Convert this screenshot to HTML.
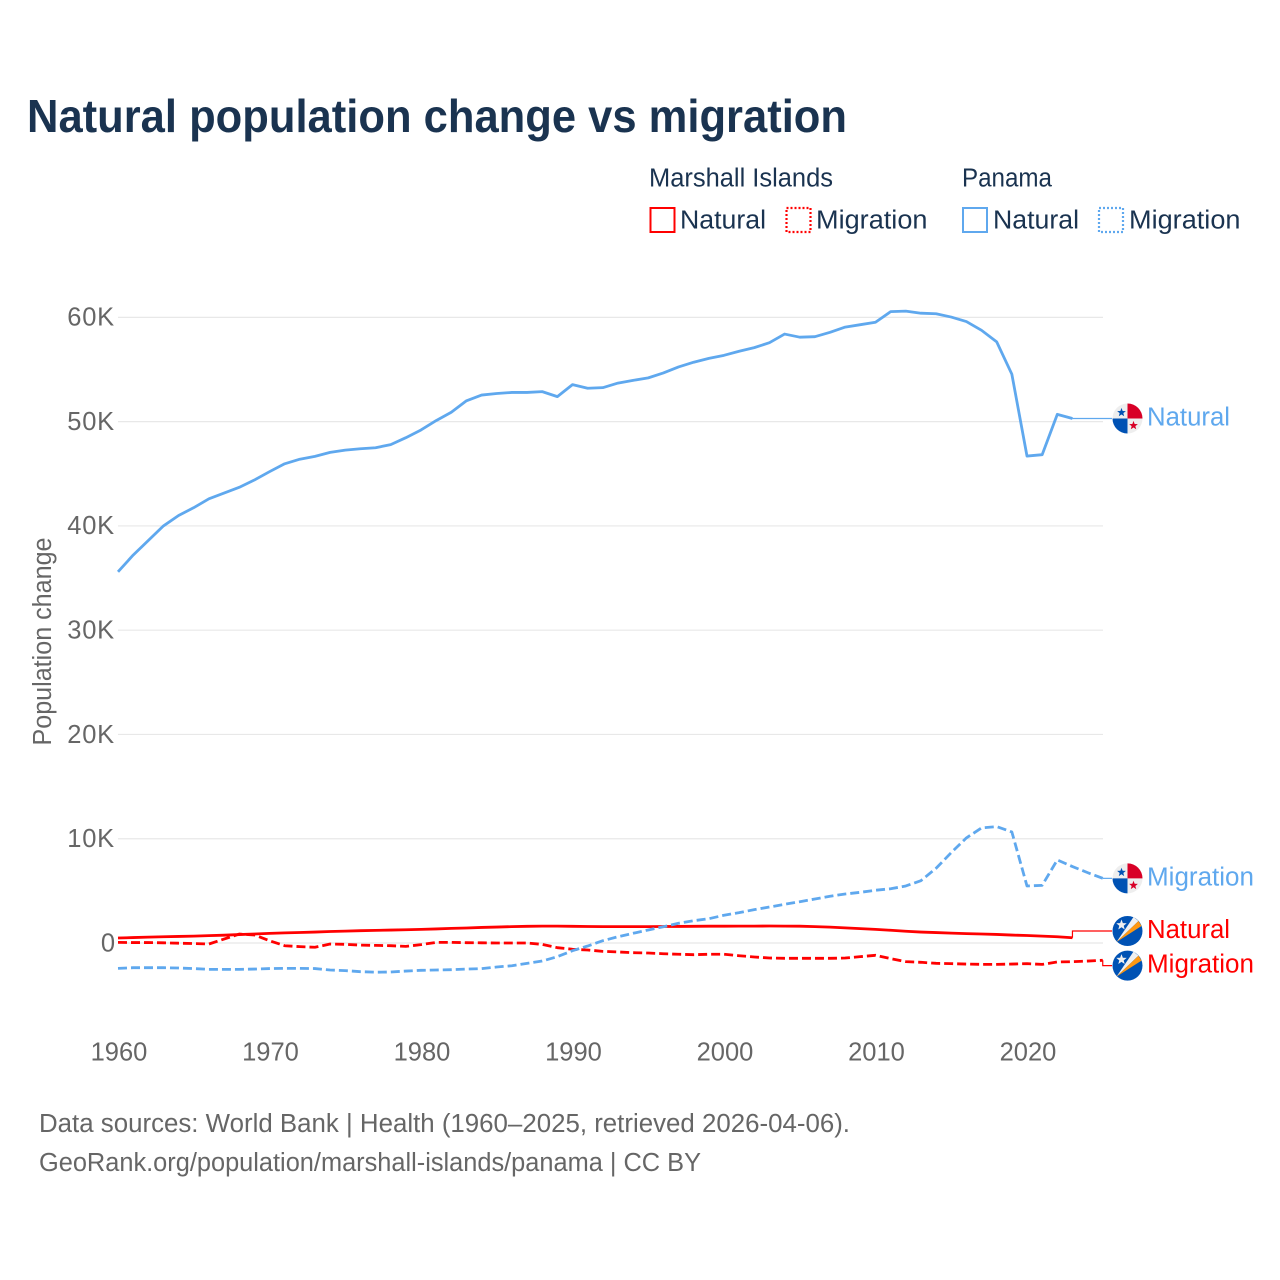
<!DOCTYPE html>
<html lang="en">
<head>
<meta charset="utf-8">
<title>Natural population change vs migration</title>
<style>
html,body{margin:0;padding:0;background:#fff;}
svg{display:block;font-family:"Liberation Sans",sans-serif;}
</style>
</head>
<body>
<svg id="chart" xmlns="http://www.w3.org/2000/svg" width="1280" height="1280" viewBox="0 0 1280 1280">
  <rect width="1280" height="1280" fill="#fff"/>
  <text x="27" y="132" font-size="46" font-weight="700" fill="#1a3350" textLength="820" lengthAdjust="spacingAndGlyphs">Natural population change vs migration</text>

  <g font-size="25.5" fill="#1a3350">
    <text x="649" y="186.5" textLength="184" lengthAdjust="spacingAndGlyphs">Marshall Islands</text>
    <text x="962" y="186.5" textLength="90" lengthAdjust="spacingAndGlyphs">Panama</text>
    <rect x="650.5" y="208" width="24" height="24" fill="none" stroke="#ff0000" stroke-width="2"/>
    <text x="680" y="228.5" textLength="86" lengthAdjust="spacingAndGlyphs">Natural</text>
    <rect x="786.5" y="208" width="24" height="24" fill="none" stroke="#ff0000" stroke-width="2.2" stroke-dasharray="2 2"/>
    <text x="816" y="228.5" textLength="111.5" lengthAdjust="spacingAndGlyphs">Migration</text>
    <rect x="963" y="208" width="24" height="24" fill="none" stroke="#5fa8ee" stroke-width="2"/>
    <text x="993" y="228.5" textLength="86" lengthAdjust="spacingAndGlyphs">Natural</text>
    <rect x="1099" y="208" width="24" height="24" fill="none" stroke="#5fa8ee" stroke-width="2.2" stroke-dasharray="2 2"/>
    <text x="1129" y="228.5" textLength="111.5" lengthAdjust="spacingAndGlyphs">Migration</text>
  </g>

  <text transform="translate(51 745.5) rotate(-90)" font-size="25.5" fill="#666" textLength="208" lengthAdjust="spacingAndGlyphs">Population change</text>

  <g id="grid"></g>
  <g id="y-ticks"></g>
  <g id="x-ticks"></g>
  <g id="series"></g>
  <g id="end-labels"></g>

  <g font-size="25.5" fill="#666">
    <text x="39" y="1132" textLength="811" lengthAdjust="spacingAndGlyphs">Data sources: World Bank | Health (1960–2025, retrieved 2026-04-06).</text>
    <text x="39" y="1171" textLength="662" lengthAdjust="spacingAndGlyphs">GeoRank.org/population/marshall-islands/panama | CC BY</text>
  </g>
</svg>

<script>
const years = [1960,1961,1962,1963,1964,1965,1966,1967,1968,1969,1970,1971,1972,1973,1974,1975,1976,1977,1978,1979,1980,1981,1982,1983,1984,1985,1986,1987,1988,1989,1990,1991,1992,1993,1994,1995,1996,1997,1998,1999,2000,2001,2002,2003,2004,2005,2006,2007,2008,2009,2010,2011,2012,2013,2014,2015,2016,2017,2018,2019,2020,2021,2022,2023,2024,2025];
// Values in thousands of people
const panamaNatural = [35.6,37.2,38.6,40.0,41.0,41.75,42.6,43.15,43.7,44.4,45.2,45.96,46.4,46.67,47.05,47.27,47.4,47.5,47.8,48.46,49.2,50.1,50.9,52.0,52.55,52.7,52.8,52.8,52.88,52.4,53.55,53.2,53.26,53.7,53.96,54.2,54.67,55.25,55.7,56.07,56.36,56.75,57.1,57.57,58.4,58.1,58.15,58.57,59.07,59.3,59.53,60.55,60.6,60.4,60.35,60.03,59.6,58.76,57.65,54.55,46.7,46.83,50.7,50.3,null,null];
const panamaMigration = [-2.43,-2.37,-2.37,-2.37,-2.4,-2.45,-2.53,-2.53,-2.53,-2.5,-2.45,-2.43,-2.43,-2.45,-2.59,-2.65,-2.75,-2.8,-2.78,-2.69,-2.62,-2.59,-2.56,-2.5,-2.46,-2.3,-2.18,-1.95,-1.73,-1.31,-0.74,-0.29,0.22,0.6,0.93,1.25,1.56,1.89,2.14,2.33,2.66,2.91,3.2,3.45,3.71,3.96,4.22,4.48,4.7,4.86,5.06,5.2,5.47,5.98,7.17,8.67,10.08,11.04,11.16,10.65,5.47,5.53,7.97,7.33,6.75,6.2];
const marshallNatural = [0.48,0.52,0.56,0.6,0.63,0.66,0.71,0.75,0.81,0.86,0.92,0.97,1.01,1.05,1.1,1.14,1.18,1.21,1.24,1.27,1.31,1.35,1.4,1.44,1.49,1.53,1.57,1.6,1.62,1.62,1.6,1.58,1.57,1.57,1.57,1.57,1.58,1.59,1.6,1.61,1.61,1.62,1.62,1.63,1.62,1.61,1.57,1.52,1.45,1.38,1.31,1.22,1.13,1.05,1.0,0.95,0.9,0.86,0.82,0.76,0.72,0.66,0.6,0.5,null,null];
const marshallMigration = [0.06,0.04,0.04,0.02,-0.02,-0.05,-0.1,0.38,0.86,0.77,0.22,-0.26,-0.35,-0.41,-0.1,-0.13,-0.2,-0.23,-0.26,-0.32,-0.16,0.06,0.06,0.03,0.02,0,0,0,-0.13,-0.45,-0.6,-0.67,-0.8,-0.86,-0.93,-0.96,-1.03,-1.08,-1.12,-1.08,-1.08,-1.22,-1.34,-1.44,-1.47,-1.47,-1.47,-1.47,-1.44,-1.31,-1.18,-1.5,-1.79,-1.85,-1.95,-1.98,-2.02,-2.05,-2.05,-2.02,-1.98,-2.05,-1.82,-1.79,-1.73,-1.66];
const yTickValues = [0,10,20,30,40,50,60];
const yTickLabels = ["0","10K","20K","30K","40K","50K","60K"];
const xTickValues = [1960,1970,1980,1990,2000,2010,2020];
const xTickLabels = ["1960","1970","1980","1990","2000","2010","2020"];

const NS = "http://www.w3.org/2000/svg";
const BLUE = "#5fa8ee", RED = "#ff0000";
const x = year => 118 + (year - 1960) * 15.15;
const y = value => 943 - value * 10.427;

function make(parent, tag, attrs, text) {
  const el = document.createElementNS(NS, tag);
  for (const k in attrs) el.setAttribute(k, attrs[k]);
  if (text !== undefined) el.textContent = text;
  parent.appendChild(el);
  return el;
}

const gridGroup = document.getElementById("grid");
const yTickGroup = document.getElementById("y-ticks");
yTickValues.forEach((v, i) => {
  const line = make(gridGroup, "line", {x1: 118, x2: 1103, y1: y(v), y2: y(v), stroke: "#e8e8e8", "stroke-width": 1.2});
  
  
  const label = make(yTickGroup, "text", {x: 115, y: y(v) + 8.3, "text-anchor": "end", "font-size": 25.5, "letter-spacing": v ? 0.8 : 0, fill: "#666"}, yTickLabels[i]);
  
  
});

const xTickGroup = document.getElementById("x-ticks");
xTickValues.forEach((v, i) => {
  const label = make(xTickGroup, "text", {x: x(v) + 1, y: 1060.5, "text-anchor": "middle", "font-size": 25.5, fill: "#666"}, xTickLabels[i]);
  
  
});

function linePath(values) {
  let d = "";
  values.forEach((v, i) => {
    if (v === null) return;
    d += (d ? "L" : "M") + x(years[i]).toFixed(2) + " " + y(v).toFixed(2);
  });
  return d;
}
function lastIndex(values) {
  let i = values.length - 1;
  while (values[i] === null) i--;
  return i;
}

const seriesGroup = document.getElementById("series");
const endGroup = document.getElementById("end-labels");

function star(parent, cx, cy, r, fill) {
  let pts = [];
  for (let i = 0; i < 10; i++) {
    const a = -Math.PI / 2 + i * Math.PI / 5;
    const rad = i % 2 ? r * 0.42 : r;
    pts.push((cx + rad * Math.cos(a)).toFixed(2) + "," + (cy + rad * Math.sin(a)).toFixed(2));
  }
  return make(parent, "polygon", {points: pts.join(" "), fill: fill});
}

function panamaFlag(cx, cy) {
  const g = make(endGroup, "g", {});
  
  
  const r = 15;
  make(g, "circle", {cx: cx, cy: cy, r: r, fill: "#eeeeee"});
  make(g, "path", {d: `M${cx} ${cy}V${cy - r}A${r} ${r} 0 0 1 ${cx + r} ${cy}Z`, fill: "#d80027"});
  make(g, "path", {d: `M${cx} ${cy}V${cy + r}A${r} ${r} 0 0 1 ${cx - r} ${cy}Z`, fill: "#0052b4"});
  star(g, cx - 6, cy - 6, 4.6, "#0052b4");
  star(g, cx + 6, cy + 7, 4.6, "#d80027");
}

function marshallFlag(cx, cy) {
  const g = make(endGroup, "g", {});
  
  
  const r = 15;
  make(g, "circle", {cx: cx, cy: cy, r: r, fill: "#0052b4"});
  make(g, "polygon", {points: `${cx - 11},${cy + 11} ${cx + 6},${cy - 14} ${cx + 11},${cy - 10}`, fill: "#f0f0f0"});
  make(g, "polygon", {points: `${cx - 11},${cy + 11} ${cx + 11},${cy - 10} ${cx + 14},${cy - 5}`, fill: "#ff9811"});
  star(g, cx - 6, cy - 6, 5.5, "#f0f0f0");
}

function drawSeries(name, values, color, dashed) {
  const p = make(seriesGroup, "path", {d: linePath(values), fill: "none", stroke: color, "stroke-width": 2.8, "stroke-linejoin": "round"});
  if (dashed) p.setAttribute("stroke-dasharray", "9 4");
  
  
}

drawSeries("line-marshall-natural", marshallNatural, RED, false);
drawSeries("line-marshall-migration", marshallMigration, RED, true);
drawSeries("line-panama-migration", panamaMigration, BLUE, true);
drawSeries("line-panama-natural", panamaNatural, BLUE, false);

function drawEnd(name, values, color, text, offset, flag) {
  const i = lastIndex(values);
  const x0 = x(years[i]), y0 = y(values[i]), y1 = y0 + offset;
  const leader = make(endGroup, "path", {d: `M${x0} ${y0}V${y1}H1112`, fill: "none", stroke: color, "stroke-width": 1.2});
  
  
  flag(1127.5, y1);
  const label = make(endGroup, "text", {x: 1147, y: y1 + 7, "font-size": 25.5, fill: color, textLength: text === "Natural" ? 83 : 107, lengthAdjust: "spacingAndGlyphs"}, text);
  
  
}

drawEnd("end-panama-natural", panamaNatural, BLUE, "Natural", 0, panamaFlag);
drawEnd("end-panama-migration", panamaMigration, BLUE, "Migration", 0, panamaFlag);
drawEnd("end-marshall-natural", marshallNatural, RED, "Natural", -6.8, marshallFlag);
drawEnd("end-marshall-migration", marshallMigration, RED, "Migration", 5.3, marshallFlag);
</script>
</body>
</html>
